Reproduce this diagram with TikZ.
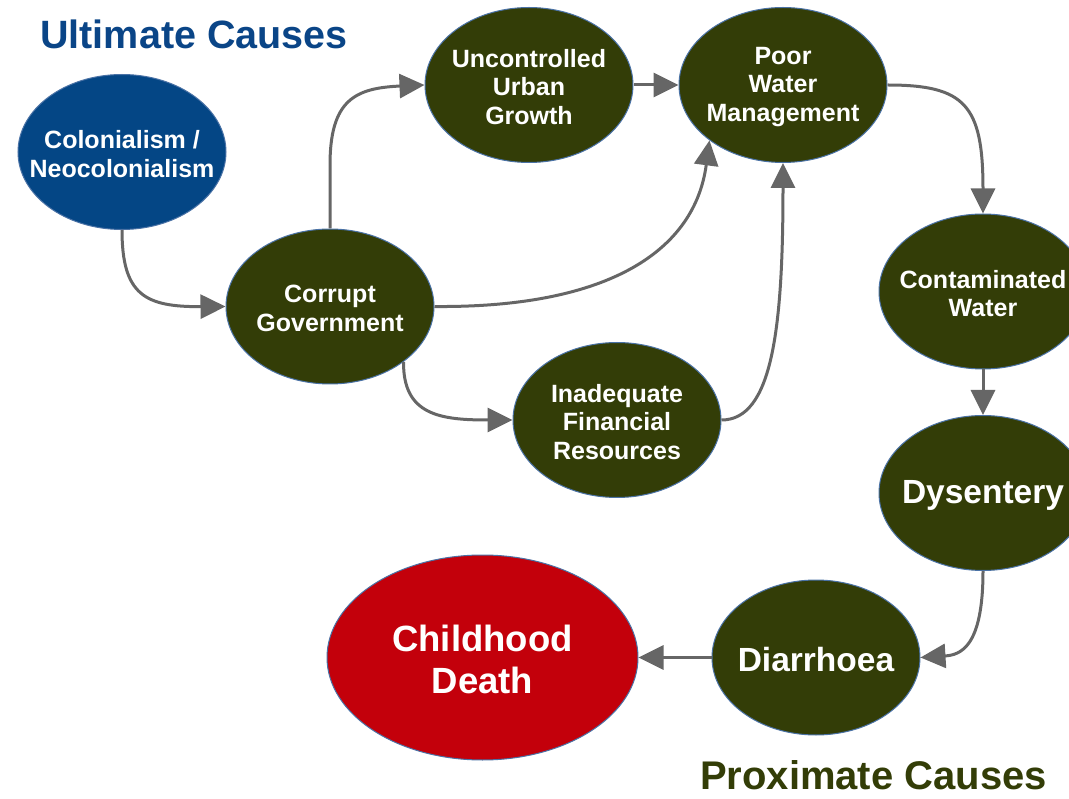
\documentclass[tikz,border=0pt]{standalone}
\usepackage{fontspec}
\setmainfont{Liberation Sans}
\usetikzlibrary{shapes.geometric,arrows.meta}
\definecolor{nodegreen}{HTML}{333D07}
\definecolor{colblue}{HTML}{044685}
\definecolor{deathred}{HTML}{C3000B}
\definecolor{edgeblue}{HTML}{4A72A6}
\definecolor{linkgray}{HTML}{666666}
\definecolor{titleblue}{HTML}{0A4587}
\begin{document}
\begin{tikzpicture}[x=1pt,y=-1pt,
  cause/.style={ellipse, draw=edgeblue, line width=1pt, fill=nodegreen,
    inner sep=0pt, minimum width=208pt, minimum height=155pt},
  txt/.style={text=white, inner sep=0pt, align=center, yshift=-2pt,
    font=\bfseries\fontsize{25}{28.5}\selectfont},
  bigtxt/.style={txt, font=\bfseries\fontsize{33.5}{40}\selectfont},
  deathtxt/.style={txt, font=\bfseries\fontsize{36.5}{42}\selectfont},
  link/.style={draw=linkgray, line width=3pt, -{Triangle[length=25pt,width=24pt]}},
  heading/.style={font=\bfseries\fontsize{39.5}{44}\selectfont, inner sep=0pt, anchor=base}]
\clip (0,0) rectangle (1069,799);
\fill[white] (0,0) rectangle (1069,799);

\node[heading, text=titleblue] (ult) at (194,49) {Ultimate Causes};
\node[heading, text=nodegreen, font=\bfseries\fontsize{40}{44}\selectfont] (prox) at (873.5,789) {Proximate Causes};

\node[cause, fill=colblue, label={[txt]center:{Colonialism /\\Neocolonialism}}] (colon) at (122,152) {};
\node[cause, label={[txt]center:{Corrupt\\Government}}] (corrupt) at (330,306.5) {};
\node[cause, label={[txt]center:{Uncontrolled\\Urban\\Growth}}] (urban) at (529,85) {};
\node[cause, label={[txt]center:{Poor\\Water\\Management}}] (poor) at (783,85) {};
\node[cause, label={[txt]center:{Contaminated\\Water}}] (contam) at (983,291.5) {};
\node[cause, label={[bigtxt]center:{Dysentery}}] (dys) at (983,493) {};
\node[cause, label={[txt]center:{Inadequate\\Financial\\Resources}}] (fin) at (617,420) {};
\node[cause, label={[bigtxt]center:{Diarrhoea}}] (diar) at (816,657.5) {};
\node[cause, fill=deathred, minimum width=311pt, minimum height=205pt,
  label={[deathtxt]center:{Childhood\\Death}}] (death) at (482.5,657.5) {};

\draw[link] (colon.south) .. controls (122,295) and (145,307) .. (corrupt.west);
\draw[link] (corrupt.north) -- (330,165) .. controls (330,100) and (355,88) .. (urban.west);
\draw[link] (corrupt.east) .. controls (610,308) and (695,250) .. (poor.-143);
\draw[link] (corrupt.-37) .. controls (403,415) and (440,420) .. (fin.west);
\draw[link] (fin.east) .. controls (772,420) and (783,330) .. (poor.south);
\draw[link] (urban.east) -- (poor.west);
\draw[link] (poor.east) .. controls (965,85) and (983,105) .. (contam.north);
\draw[link] (contam.south) -- (dys.north);
\draw[link] (dys.south) .. controls (983,648) and (960,655) .. (diar.east);
\draw[link] (diar.west) -- (death.east);
\end{tikzpicture}
\end{document}
